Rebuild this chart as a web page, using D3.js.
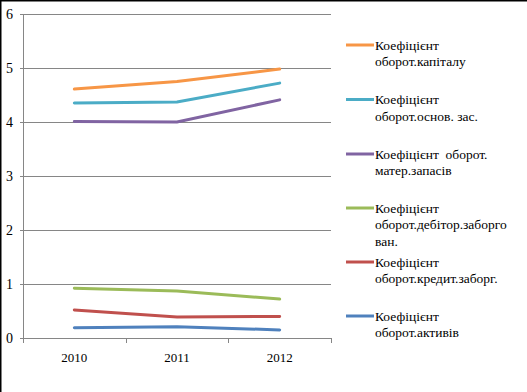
<!DOCTYPE html>
<html><head><meta charset="utf-8">
<script src="https://cdn.jsdelivr.net/npm/d3@7"></script>
<style>body{margin:0;background:#fff}svg{display:block}svg text{font-family:"Liberation Serif","DejaVu Serif","Times New Roman",serif}</style>
</head><body>
<svg id="c" width="527" height="392"></svg>
<script>
const years = ["2010", "2011", "2012"];
const yTicks = [0, 1, 2, 3, 4, 5, 6];
const seriesNames = [
  ["Коефіцієнт", "оборот.капіталу"],
  ["Коефіцієнт", "оборот.основ. зас."],
  ["Коефіцієнт  оборот.", "матер.запасів"],
  ["Коефіцієнт", "оборот.дебітор.заборго", "ван."],
  ["Коефіцієнт", "оборот.кредит.заборг."],
  ["Коефіцієнт", "оборот.активів"]
];
const seriesColors = ["#F79646", "#4BACC6", "#8064A2", "#9BBB59", "#C0504D", "#4F81BD"];
const kapitalu = [4.61, 4.75, 4.98];
const osnovZas = [4.35, 4.37, 4.72];
const materZap = [4.01, 4.00, 4.41];
const debitor = [0.92, 0.87, 0.72];
const kredit = [0.52, 0.39, 0.40];
const aktyviv = [0.19, 0.21, 0.15];
const seriesValues = [kapitalu, osnovZas, materZap, debitor, kredit, aktyviv];

const svg = d3.select("#c");
const L = 23, R = 331, T = 14, B = 338;
const x = d3.scaleBand().domain(years).range([L, R]);
const y = d3.scaleLinear().domain([0, 6]).range([B, T]);

// border
svg.append("path").attr("d", `M0.75,392 V0.75 H527`).attr("fill","none").attr("stroke","#000").attr("stroke-width",1.5);

// gridlines
svg.append("g").selectAll("line").data(yTicks).join("line")
  .attr("x1", L - 3).attr("x2", R)
  .attr("y1", d => Math.round(y(d)) + 0.5).attr("y2", d => Math.round(y(d)) + 0.5)
  .attr("stroke", "#868686").attr("stroke-width", 1);

// y axis line
svg.append("line").attr("x1", L + 0.5).attr("x2", L + 0.5).attr("y1", T).attr("y2", B + 5)
  .attr("stroke", "#868686");
// x ticks
const xt = years.map(d => x(d)).concat([R]);
svg.append("g").selectAll("line").data(xt).join("line")
  .attr("x1", d => Math.round(d) + 0.5).attr("x2", d => Math.round(d) + 0.5)
  .attr("y1", B).attr("y2", B + 5).attr("stroke", "#868686");

// y labels
svg.append("g").selectAll("text").data(yTicks).join("text")
  .attr("x", 13).attr("y", d => y(d) + 4.5).attr("text-anchor", "end")
  .attr("font-size", 14).attr("fill", "#000").text(d => d);
// x labels
svg.append("g").selectAll("text").data(years).join("text")
  .attr("x", d => x(d) + x.bandwidth() / 2).attr("y", 362).attr("text-anchor", "middle")
  .attr("font-size", 13).attr("fill", "#000").text(d => d);

// lines
const line = d3.line().x((d, i) => x(years[i]) + x.bandwidth() / 2).y(d => y(d));
svg.append("g").selectAll("path").data(seriesValues.slice().reverse()).join("path")
  .attr("d", d => line(d)).attr("fill", "none")
  .attr("stroke", (d, i) => seriesColors[seriesColors.length - 1 - i])
  .attr("stroke-width", 3).attr("stroke-linecap", "round");

// legend
const legY = [45, 99.5, 154, 208, 262, 316];
const leg = svg.append("g").selectAll("g").data(seriesNames).join("g")
  .attr("transform", (d, i) => `translate(346,${legY[i]})`);
leg.append("line").attr("x1", 0).attr("x2", 28).attr("y1", 0).attr("y2", 0)
  .attr("stroke", (d, i) => seriesColors[i]).attr("stroke-width", 3);
leg.each(function(d) {
  const g = d3.select(this);
  d.forEach((t, j) => {
    g.append("text").attr("x", 29).attr("y", 4.5 + j * 16.7)
      .attr("font-size", 13.5).attr("fill", "#000")
      .style("white-space", "pre").text(t);
  });
});
</script>
</body></html>
